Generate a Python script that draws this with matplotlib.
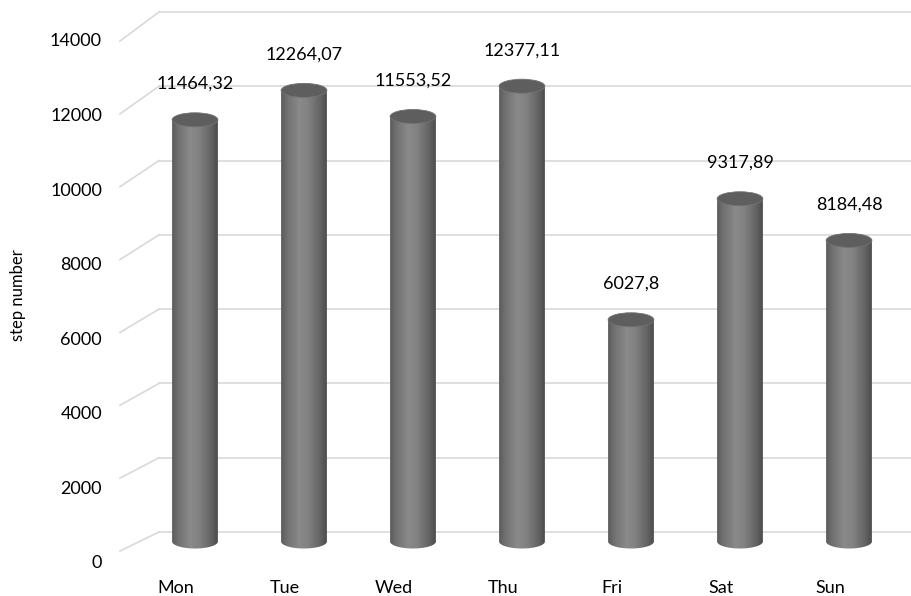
import numpy as np
import matplotlib
matplotlib.use("Agg")
import matplotlib.pyplot as plt
from matplotlib.colors import LinearSegmentedColormap
from matplotlib.patches import Ellipse, PathPatch
from matplotlib.path import Path
from matplotlib.lines import Line2D
from matplotlib.transforms import ScaledTranslation

days = ["Mon", "Tue", "Wed", "Thu", "Fri", "Sat", "Sun"]
steps = [11464.32, 12264.07, 11553.52, 12377.11, 6027.8, 9317.89, 8184.48]
step_labels = ["11464,32", "12264,07", "11553,52", "12377,11", "6027,8", "9317,89", "8184,48"]
y_ticks = [0, 2000, 4000, 6000, 8000, 10000, 12000, 14000]

plt.rcParams['font.family'] = ['Lato', 'DejaVu Sans']
W, H = 912, 596
fig = plt.figure(figsize=(W / 100, H / 100), dpi=100)


def box(left, right, bottom, top):
    # pixel box measured from the top-left corner
    return [left / W, 1 - bottom / H, (right - left) / W, (bottom - top) / H]


# back wall, front edge and label scales of the fake 3d frame
ax_back = fig.add_axes(box(159, 912, 532, 12))
ax_front = fig.add_axes(box(120, 121, 551, 41))
ax_lab = fig.add_axes(box(110, 111, 562, 40))
for a in (ax_back, ax_front, ax_lab):
    a.set_xlim(0, 1)
    a.set_ylim(0, 14000)
    a.patch.set_visible(False)
    for s in a.spines.values():
        s.set_visible(False)
    a.set_xticks([])
    a.set_yticks([])

grid_col = "#d9d9d9"
for v in y_ticks:
    ax_back.axhline(v, color=grid_col, lw=1.2, clip_on=False)
    p0 = ax_front.transData.transform((0, v))
    p1 = ax_back.transData.transform((0, v))
    f0, f1 = fig.transFigure.inverted().transform([p0, p1])
    fig.add_artist(Line2D([f0[0], f1[0]], [f0[1], f1[1]], color=grid_col, lw=1.2,
                          transform=fig.transFigure))

ax_lab.set_yticks(y_ticks)
ax_lab.set_yticklabels([str(v) for v in y_ticks])
ax_lab.tick_params(axis='y', length=0, pad=5.8, labelsize=13, labelcolor="#000000")

# bars sit on the middle depth plane
px_per_unit = 515 / 14000
ax = fig.add_axes(box(140.5, 903.5, 541.5 + 1000 * px_per_unit, 26.5))
ax.set_axis_off()

cmap = LinearSegmentedColormap.from_list(
    "cyl", [(0, "#5a5a5a"), (0.12, "#6f6f6f"), (0.4, "#8a8a8a"), (0.6, "#818181"),
            (0.85, "#646464"), (1, "#4c4c4c")])
grad = np.linspace(0, 1, 256).reshape(1, -1)
half = 0.21
eh = 14 / px_per_unit
t = np.linspace(np.pi, 2 * np.pi, 60)

for i, v in enumerate(steps):
    x0, x1 = i - half, i + half
    verts = [(x0, v)] + list(zip(i + half * np.cos(t), eh / 2 * np.sin(t))) + [(x1, v), (x0, v)]
    codes = [Path.MOVETO] + [Path.LINETO] * (len(verts) - 2) + [Path.CLOSEPOLY]
    body = PathPatch(Path(verts, codes), fc='none', ec='none')
    ax.add_patch(body)
    im = ax.imshow(grad, cmap=cmap, extent=(x0, x1, -eh / 2, v), aspect='auto',
                   origin='lower', zorder=2, interpolation='bilinear')
    im.set_clip_path(body)
    ax.add_patch(Ellipse((i, v), 2 * half, eh, fc="#5e5e5e", ec="#737373", lw=0.6, zorder=3))
    ax.annotate(step_labels[i], (i, v), xytext=(0, 36), textcoords='offset pixels',
                ha='center', va='center', fontsize=13, color="#000000")

ax.set_xlim(-0.5, 6.5)
ax.set_ylim(-1000, 14000)

shift = ScaledTranslation(-19 / 100, -46.5 / 100, fig.dpi_scale_trans)
for i, d in enumerate(days):
    ax.text(i, 0, d, transform=ax.transData + shift, ha='center', va='center',
            fontsize=13, color="#000000")

fig.text(18 / W, 1 - 295 / H, "step number", rotation=90, ha='center', va='center',
         fontsize=12, color="#000000")

fig.savefig("out.png", dpi=100)
